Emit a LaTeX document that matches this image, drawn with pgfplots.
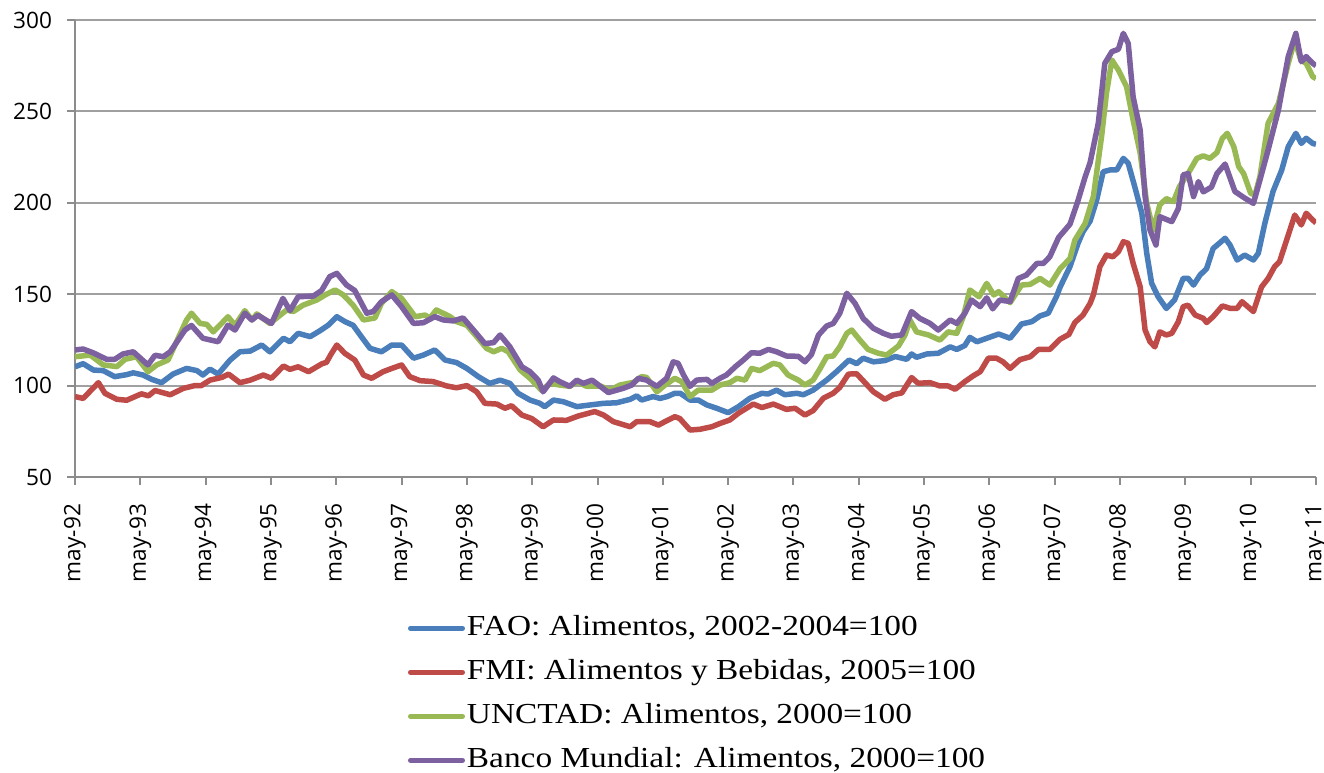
\documentclass[border=0pt]{standalone}
\usepackage{pgfplots}
\pgfplotsset{compat=1.18}
\usepackage{fontspec}
\setmainfont{Liberation Serif}
\newfontfamily\legfont[FakeStretch=1.15]{Liberation Serif}
\newfontfamily\tickfont{Open Sans}
\definecolor{cfao}{HTML}{4A7EBB}
\definecolor{cfmi}{HTML}{BE4B48}
\definecolor{cunc}{HTML}{98B954}
\definecolor{cwb}{HTML}{7D60A0}
\definecolor{cgrid}{HTML}{A0A0A0}
\definecolor{caxis}{HTML}{8C8C8C}
\begin{document}
\begin{tikzpicture}
\useasboundingbox (-37.5pt,-147.5pt) rectangle (624.5pt,238.5pt);
\begin{axis}[
  width=620.5pt, height=228.5pt, scale only axis,
  xmin=0, xmax=228, ymin=50, ymax=300,
  axis lines=left, axis line style={-, caxis, line width=1pt},
  ytick={50,100,150,200,250,300},
  xtick={0,12,...,228},
  xticklabels={may-92,may-93,may-94,may-95,may-96,may-97,may-98,may-99,may-00,may-01,may-02,may-03,may-04,may-05,may-06,may-07,may-08,may-09,may-10,may-11},
  tick align=outside, major tick length=4pt,
  tick style={caxis, line width=1pt},
  ymajorgrids, grid style={cgrid, line width=1pt},
  /pgf/number format/assume math mode=true,
  ticklabel style={font=\tickfont\fontsize{11.3}{13}\selectfont},
  xticklabel style={rotate=90, anchor=east, xshift=-6pt},
  yticklabel style={xshift=-4pt},
  legend style={at={(0.268,-0.294)}, anchor=north west, draw=none, fill=none,
    font=\legfont\fontsize{14.5}{17}\selectfont, row sep=5.5pt, inner sep=0pt,
    nodes={text height=11pt, text depth=3.5pt, inner sep=1pt}},
  legend cell align=left,
  legend image code/.code={\draw[#1, line width=2.5pt, line cap=round] (0pt,0pt) -- (26pt,0pt);},
  every axis plot/.append style={line width=2.75pt, line join=round, no markers},
]
\addplot[cfao] coordinates {
(0,110.3)(1.5,112)(3.4,108.5)(5.2,108.2)(6.4,106.3)(7.3,104.9)(9.5,106)(10.7,107)(12.5,105.8)(14.1,103.4)(15.9,101.6)(18,106.3)(20.5,109.4)(22.4,108.2)(23.5,105.8)(24.8,109)(26.3,106.3)(28.5,114)(30.3,118.5)(32.2,118.9)(34.3,122.2)(35.8,118.5)(38.3,125.9)(39.5,124)(41,128.6)(43.2,126.8)(45,130)(46.5,133)(48.1,137.7)(49.6,135)(51.1,133)(52.7,126.4)(54.2,120.4)(56.3,118.5)(58.2,122.2)(60,122.2)(62.2,115)(64,116.7)(66.1,119.5)(68,114)(70.1,112.6)(72,109.4)(74.1,104.9)(76.2,101.2)(78.1,103)(79.9,101.2)(81.4,95.8)(83.6,92.1)(85.4,90.3)(86.3,88.5)(87.9,92.1)(89.7,91.2)(92.2,88.5)(94.6,89.4)(97.1,90.3)(99.5,90.6)(102,92.5)(103.2,94.4)(104.1,92.1)(106.2,94)(107.5,93)(108.8,94)(110.2,95.8)(111.2,95.8)(113,92.1)(114.5,92.1)(116.1,89.4)(117.9,87.6)(120,85.2)(121.9,88.5)(124,93.1)(126.2,95.8)(127.3,95.4)(128.9,97.5)(130.4,95)(132.6,95.8)(133.8,95)(135.6,97.5)(138.1,103)(139.9,107.6)(142.2,114)(143.6,112)(144.8,115)(146.7,113)(148.8,113.7)(150.7,115.9)(152.8,114.4)(153.7,117.3)(154.6,115.5)(156.5,117.3)(158.6,117.7)(160.8,121.2)(162,119.8)(163.5,122)(164.4,126.4)(165.7,124)(167.5,125.9)(169.7,128.2)(171.8,125.9)(173.9,133.7)(175.8,135)(177.3,138.1)(178.8,139.6)(180.3,148.6)(181,154)(182.8,165.1)(184.3,178)(185.2,184.2)(186.5,190)(187.7,201.5)(188.9,217)(190.2,218)(191.4,218)(192.6,224.3)(193.5,221.6)(194.7,208.8)(196,194.3)(196.9,172.4)(197.8,156)(199,148.6)(200.5,142.2)(202,146.8)(203.6,158.7)(204.5,158.7)(205.5,155)(206.7,160.5)(207.9,164)(209.1,175)(211.3,180.6)(212.2,176.9)(213.5,168.7)(214.9,171.4)(216.5,168.7)(217.4,172.4)(218.6,188.8)(220.1,206.2)(221.7,217.9)(222.9,230.7)(224.3,238)(225.3,232.5)(226.2,235.3)(227.4,232.5)(228,232)
};
\addlegendentry{FAO: Alimentos, 2002-2004=100}
\addplot[cfmi] coordinates {
(0,94)(1.5,93)(4.3,101.6)(5.5,95.8)(7.7,92.5)(9.5,92)(12.2,95.5)(13.5,94.4)(14.7,97.3)(17.5,95)(19.9,98.5)(22,100)(23.2,100)(24.8,103)(27,104.5)(28.2,106.3)(30.3,101.6)(32.2,103)(34.6,105.8)(36.1,104)(38.3,110.7)(39.5,108.9)(41,110.3)(42.9,107.6)(45.4,112)(46.2,112.7)(47,117)(48.1,122.2)(49.6,117.6)(51.4,114)(53,105.8)(54.5,104)(56.6,107.6)(58.2,109.4)(60,111.3)(61.5,104.9)(63.4,102.7)(65.8,102.2)(68.3,99.8)(70.1,98.8)(72,100)(73.8,96.6)(75.3,90.3)(77.5,89.9)(79,87.6)(80.2,89)(82.1,83.9)(83.9,82)(86,77.5)(87.9,81.2)(90.3,81)(92.5,83.4)(95.5,85.8)(97.1,83.9)(98.9,80.3)(102,77.5)(103.2,80.3)(105.6,80.3)(107.2,78.4)(108.4,80.3)(110.2,83)(111.1,82)(113,75.7)(114.8,76.1)(117,77.5)(118.5,79.3)(120.3,81.2)(121.9,84.9)(124.6,89.9)(126.2,88)(128.3,89.9)(130.7,87)(132.3,87.6)(134.1,83.9)(135.6,86.3)(137.5,93.1)(139.3,95.8)(140.5,99)(142.1,106.3)(143.6,106.5)(146.7,96.6)(148.8,92.5)(150.3,95)(151.9,96)(153.7,104.4)(154.9,101.3)(157.1,101.6)(158.9,99.8)(160.4,99.8)(161.7,98)(163.5,102.2)(165,105.3)(166.3,107.6)(167.8,115)(169.3,115)(170.5,113)(171.8,109.4)(173.6,114.2)(175.5,115.8)(177,119.8)(179.1,119.8)(181,125.4)(182.6,128)(183.7,134.5)(185.2,138.6)(186.5,145)(187.1,149.6)(188.3,165.1)(189.5,171.4)(190.7,170.5)(191.7,173.3)(192.6,178.7)(193.5,177.8)(194.4,166.9)(195.7,154)(196.6,130.4)(197.5,124)(198.4,121.2)(199.3,129.4)(200.5,127.7)(201.5,128.6)(202.7,134.9)(203.6,143.2)(204.5,144)(205.8,138.6)(207.3,136.8)(207.9,134.5)(209.1,137.7)(210.8,143.6)(212.3,142.2)(213.5,142.2)(214.4,145.9)(215.3,143.6)(216.5,140.5)(218,154)(219.2,158.6)(220.4,165.1)(221.3,167.8)(222.6,179.6)(224.1,193.3)(225.3,187.9)(226.2,194.3)(227.4,190.6)(228,189)
};
\addlegendentry{FMI: Alimentos y Bebidas, 2005=100}
\addplot[cunc] coordinates {
(0,115.8)(2.8,116.7)(5.2,111.3)(7.7,110.4)(9.2,114.4)(11.3,115.8)(13.4,107.6)(15,111.3)(17.1,114)(20.5,135.9)(21.4,139.6)(23,134)(24.2,133.5)(25.4,129.4)(26.6,133)(28.1,137.7)(29.4,133)(31.2,141)(32.5,135.9)(33.4,139.2)(35.8,134)(38.9,141.4)(40.1,140.5)(41.9,144)(44.4,146.8)(46.2,150)(47.8,152.3)(49.3,149.6)(51.1,144)(53,135.9)(55.1,137)(56.3,145)(58.2,151.4)(60,147.7)(62.5,137.7)(64.3,138.6)(65.2,137)(66.4,141.4)(68.9,137.7)(70.1,135)(72,133)(73.8,126.8)(75.6,120.4)(76.9,118.5)(78.4,120.4)(79.6,118.5)(81.8,108.5)(83.6,104)(85.7,97.5)(87.3,101.2)(89.1,100.3)(90.9,99.6)(92.2,102.1)(94,99.6)(96.5,99.8)(98.3,97.5)(100.1,100.3)(102.6,101.8)(104.1,104.9)(105,104.5)(106.9,96.6)(108.4,100.3)(110.2,104)(111.5,102.1)(113,94)(114.5,97.5)(117,97.5)(118.5,100.3)(120.3,101.6)(121.6,104)(123.1,103)(124.3,109.4)(125.8,108.2)(128.3,112.2)(129.5,111.3)(131,105.8)(132.9,103)(134.1,100.3)(135.6,103)(136.9,109.4)(138.1,115.8)(139.3,116.2)(140.5,121.2)(141.8,128.6)(142.7,130.4)(144.2,124.9)(145.7,119.8)(147.5,117.8)(149.1,116.7)(151.3,121.7)(152.5,127.7)(153.4,135.9)(154.6,129.4)(156.8,127.7)(158.9,124.9)(160.4,129.4)(162,128.6)(163.2,137.7)(164.4,152.3)(166.1,148.6)(167.5,155.9)(168.8,149.6)(169.7,151.4)(171.8,145.4)(173.9,155)(175.5,155.4)(177.3,158.6)(179.1,155)(181,164)(182.8,169.5)(183.7,179.6)(185.6,188.8)(187.1,203.4)(188.6,236.2)(189.5,259.9)(190.5,278.1)(191.7,272.6)(193.2,263.5)(194.4,245.3)(195.7,227.1)(196.9,199.7)(198.1,185.1)(199.3,198.8)(200.5,202.3)(201.8,200.6)(202.9,208.8)(204.5,216)(206.1,224.3)(207.3,225.7)(208.5,224.3)(209.8,227.5)(210.8,235.3)(211.7,238)(212.9,230.7)(213.8,219.8)(214.7,216)(216,205.2)(216.8,204.3)(217.7,214.4)(219.2,243.5)(221.1,254.4)(222.9,276.3)(224.1,289)(225.2,278.1)(226.2,276.3)(227.4,269)(228,268)
};
\addlegendentry{UNCTAD: Alimentos, 2000=100}
\addplot[cwb] coordinates {
(0,119.5)(1.5,120)(3.3,118)(5.8,114.4)(7.3,114.4)(8.8,117.3)(10.7,118.5)(13.4,111.3)(14.7,116.6)(16.2,115.8)(17.5,118.5)(20.2,130.4)(21.4,132.9)(23.5,125.9)(26.3,124)(28.1,133)(29.4,130.4)(31.2,139.6)(32.5,135.9)(33.6,138.5)(36.1,134)(38.2,147.7)(39.5,141)(41,148.6)(43.8,149)(45.3,152)(46.8,159.6)(48.1,161.4)(49.9,155)(51.4,152)(53.6,139.6)(54.8,140.5)(56.3,145.9)(58.2,149.6)(60,143.2)(62.2,134)(64,134.4)(66.1,137.7)(67.7,135.9)(69.5,135.4)(71.3,137)(73.5,129.4)(75.3,123)(76.9,123.5)(78.1,127.7)(79.9,121.2)(82.1,110.3)(83.6,107.6)(85.1,103)(86,96.6)(87.9,104.2)(89.1,102.1)(90.9,99.6)(92.2,103)(93.4,101.2)(95,103)(96.5,99.6)(98,96.2)(100.7,98.5)(102.3,100.3)(103.5,104)(105,103)(106.9,99.6)(108.7,104)(109.9,113)(110.8,112.2)(111.8,105.8)(113,99.6)(114.2,103)(116.1,103.4)(117,101.2)(118.5,104)(119.7,105.8)(121.3,110.3)(122.8,114)(124.3,118)(125.8,117.7)(127.4,119.8)(128.9,118.5)(130.7,116.2)(132.9,116)(134.1,113)(135.3,117)(136.6,127.7)(138.1,132.6)(139.3,134)(140.5,139.5)(141.8,150.5)(143.3,145)(144.8,136.8)(146.7,131.3)(148.5,128.6)(150,127)(151.9,127.7)(153.7,140.5)(155.2,136.8)(157.1,134)(158.6,130.4)(160.8,135.9)(162,134)(163.5,139.6)(164.7,146.8)(166.3,143.2)(167.5,148)(168.6,142)(169.9,146.8)(171.8,146)(173.3,158.6)(174.8,160.5)(176.7,166.8)(177.9,166.8)(179.1,170.5)(180.7,181)(182.8,188.3)(184.2,200.5)(185.6,214.3)(186.5,222)(188,243.5)(189.2,276.3)(190.5,282.7)(191.7,284)(192.6,292.7)(193.5,287.2)(194.4,258)(195.7,239.8)(196.6,203.4)(197.5,185.1)(198.6,176.9)(199.3,192.4)(201.5,189.7)(202.7,196.8)(203.6,215.3)(204.5,216)(205.5,203.4)(206.4,211.6)(207.3,206)(208.8,208.6)(209.8,216)(211.3,221.2)(213.1,206.2)(214.9,202.6)(216.5,199.7)(217.7,212.5)(219.2,228.9)(221.1,250.8)(222.9,280)(224.3,292.7)(225.3,277.2)(226.2,280)(227.4,276.3)(228,275)
};
\addlegendentry{Banco Mundial: Alimentos, 2000=100}
\end{axis}
\end{tikzpicture}
\end{document}
